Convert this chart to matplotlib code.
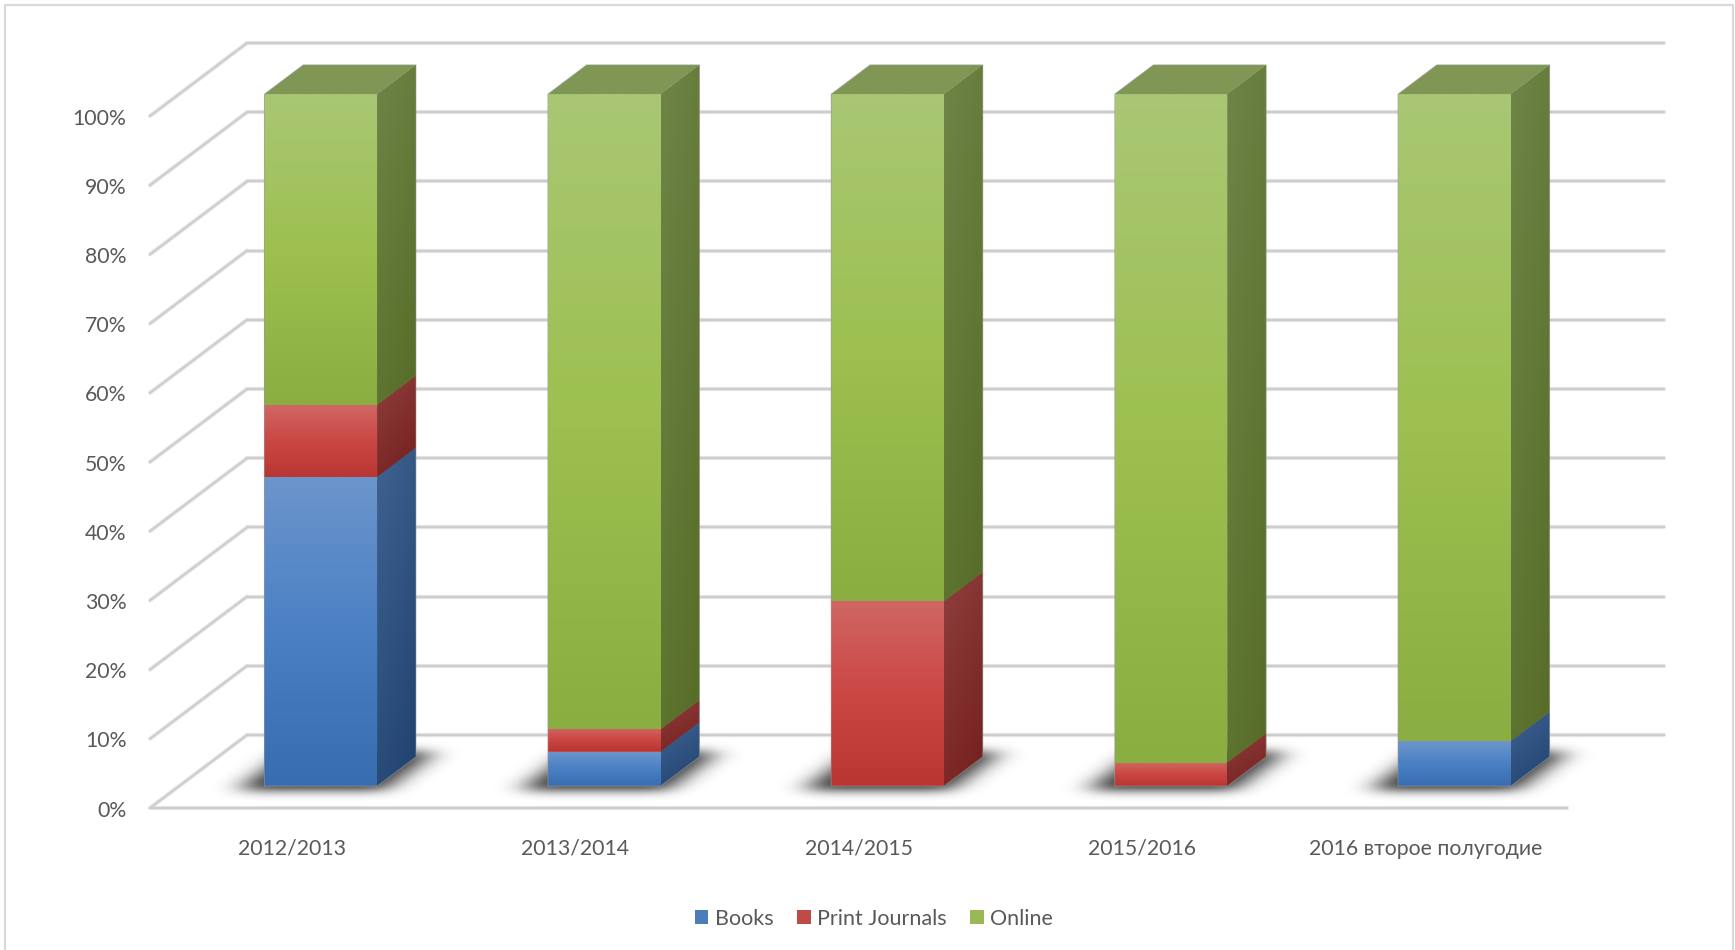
#!/usr/bin/env python3

import numpy as np
from matplotlib import pyplot as plt
from matplotlib.colors import to_rgb
from matplotlib.patches import Patch, Polygon, Rectangle
from matplotlib.transforms import ScaledTranslation

categories = ['2012/2013', '2013/2014', '2014/2015', '2015/2016', '2016 второе полугодие']
books = [44.7, 5.0, 0.0, 0.0, 6.5]
print_journals = [10.4, 3.2, 26.7, 3.4, 0.0]
online = [44.9, 91.8, 73.3, 96.6, 93.5]
series_names = ['Books', 'Print Journals', 'Online']
y_ticks = [0, 10, 20, 30, 40, 50, 60, 70, 80, 90, 100]
y_labels = ['0%', '10%', '20%', '30%', '40%', '50%', '60%', '70%', '80%', '90%', '100%']

# front face gradient (top, middle, bottom), side gradient (top left, bottom right)
front_colors = [('#6C95CC', '#4A80C4', '#386DB0'),
                ('#D06663', '#CB4744', '#B93633'),
                ('#A9C774', '#9DC050', '#8BAE42')]
side_colors = [('#3F6291', '#21426F'),
               ('#8E3F3D', '#741F1D'),
               ('#6F8547', '#566C27')]
legend_colors = ['#4A7EBB', '#BE4B48', '#98B954']
top_color = '#7F9655'
text_color = '#595959'

W, H = 1735, 950
# oblique projection: whole floor depth in data units
DEPTH_X = 97 / 283.4
DEPTH_Y = 73 / 6.92
BAR_WIDTH = 0.398
BAR_D0, BAR_D1 = 0.3, 0.7

plt.rcParams['font.family'] = ['Lato', 'Noto Sans', 'DejaVu Sans']


def proj(x, y, d):
    return x + d * DEPTH_X, y + d * DEPTH_Y


def gradient(ax, corners, img, zorder):
    xs = [c[0] for c in corners]
    ys = [c[1] for c in corners]
    # solid layer first so no white seam shows between the clipped faces
    ax.add_patch(Polygon(corners, closed=True, facecolor=img[img.shape[0] // 2, img.shape[1] // 2],
                         edgecolor='none', zorder=zorder - 0.5, clip_on=False))
    im = ax.imshow(img, extent=(min(xs), max(xs), min(ys), max(ys)), origin='upper',
                   aspect='auto', interpolation='bilinear', zorder=zorder)
    im.set_clip_path(Polygon(corners, closed=True, transform=ax.transData))
    im.set_clip_box(fig.bbox)


def front_gradient(cols):
    a, b, c = [np.array(to_rgb(k)) for k in cols]
    t = np.linspace(0, 1, 64)[:, None]
    img = np.where(t < 0.5, a + (b - a) * t * 2, b + (c - b) * (t - 0.5) * 2)
    return img[:, None, :]


def side_gradient(cols):
    a, b = [np.array(to_rgb(k)) for k in cols]
    yy, xx = np.mgrid[0:1:64j, 0:1:32j]
    t = (0.7 * yy + 0.3 * xx)[:, :, None]
    return a + (b - a) * t


def blur(mask, sigma, axis):
    r = int(sigma * 3)
    k = np.exp(-0.5 * (np.arange(-r, r + 1) / sigma) ** 2)
    k /= k.sum()
    return np.apply_along_axis(lambda v: np.convolve(v, k, mode='same'), axis, mask)


def draw_shadow(ax, i):
    # grid of about 1.5 px per cell
    xx = np.linspace(i - 0.6, i + 1.0, 300)
    yy = np.linspace(-3, 15, 84)
    gx, gy = np.meshgrid(xx, yy)
    d = gy / DEPTH_Y
    u = gx - d * DEPTH_X - i
    mask = ((u > -0.275) & (u < 0.24) & (d > 0.24) & (d < 0.78)).astype(float)
    img = np.zeros(gx.shape + (4,))
    img[:, :, :3] = 0.12
    img[:, :, 3] = 0.92 * blur(blur(mask, 3.3, 0), 9, 1)
    im = ax.imshow(img, extent=(xx[0], xx[-1], yy[0], yy[-1]), origin='lower', aspect='auto',
                   interpolation='bilinear', zorder=3)
    im.set_clip_path(None)
    im.set_clip_box(fig.bbox)


def draw_segment(ax, i, bottom, top, k):
    x0 = i - BAR_WIDTH / 2
    x1 = i + BAR_WIDTH / 2
    fl = proj(x0, bottom, BAR_D0)
    fr = proj(x1, bottom, BAR_D0)
    tl = proj(x0, top, BAR_D0)
    tr = proj(x1, top, BAR_D0)
    br = proj(x1, bottom, BAR_D1)
    bt = proj(x1, top, BAR_D1)
    gradient(ax, [fl, fr, tr, tl], front_gradient(front_colors[k]), 5)
    gradient(ax, [fr, br, bt, tr], side_gradient(side_colors[k]), 5)


fig = plt.figure(figsize=(W / 100, H / 100), dpi=100)
ax = fig.add_axes([150 / W, 1 - 808 / H, 1417 / W, 692 / H])
ax.set_facecolor('none')
for s in ax.spines.values():
    s.set_visible(False)

# chart border
fig.add_artist(Rectangle((5 / W, -0.02), 1728 / W, 1.02 - 5 / H, transform=fig.transFigure,
                         fill=False, edgecolor='#D9D9D9', linewidth=1.6))

# grid lines, wide pale line under a darker one
for lw, col, z in [(3.0, '#E6E6E6', 1), (1.5, '#CDCDCD', 2)]:
    for v in y_ticks:
        xb0, yb0 = proj(-0.5, v, 1)
        xb1, yb1 = proj(4.5, v, 1)
        ax.plot([-0.5, xb0], [v, yb0], color=col, lw=lw, solid_capstyle='round',
                clip_on=False, zorder=z)
        ax.plot([xb0, xb1], [yb0, yb1], color=col, lw=lw, solid_capstyle='round',
                clip_on=False, zorder=z)
    ax.plot([-0.5, 4.5], [0, 0], color=col, lw=lw, solid_capstyle='round',
            clip_on=False, zorder=z)

for i in range(len(categories)):
    draw_shadow(ax, i)
    bottom = 0
    for k, vals in enumerate([books, print_journals, online]):
        if vals[i] > 0:
            draw_segment(ax, i, bottom, bottom + vals[i], k)
        bottom += vals[i]
    x0 = i - BAR_WIDTH / 2
    x1 = i + BAR_WIDTH / 2
    cap = [proj(x0, bottom, BAR_D0), proj(x1, bottom, BAR_D0),
           proj(x1, bottom, BAR_D1), proj(x0, bottom, BAR_D1)]
    ax.add_patch(Polygon(cap, closed=True, facecolor=top_color, edgecolor='none',
                         zorder=6, clip_on=False))
    outline = [proj(x0, 0, BAR_D0), proj(x1, 0, BAR_D0), proj(x1, 0, BAR_D1),
               proj(x1, bottom, BAR_D1), proj(x0, bottom, BAR_D1), proj(x0, bottom, BAR_D0)]
    ax.add_patch(Polygon(outline, closed=True, fill=False, edgecolor='#9A9A9A', alpha=0.6,
                         linewidth=0.7, zorder=7, clip_on=False))

ax.set_xlim(-0.5, 4.5)
ax.set_ylim(0, 100)
ax.set_xticks(range(len(categories)))
ax.set_xticklabels(categories, fontsize=15.3, color=text_color)
ax.set_yticks(y_ticks)
ax.set_yticklabels(y_labels, fontsize=15.3, color=text_color)
ax.tick_params(axis='x', length=0, pad=22)
ax.tick_params(axis='y', length=0, pad=17)
down = ScaledTranslation(0, -0.6 / 100, fig.dpi_scale_trans)
for label in ax.get_yticklabels():
    label.set_transform(label.get_transform() + down)

handles = [Patch(facecolor=c, edgecolor='none', label=n) for c, n in zip(legend_colors, series_names)]
fig.legend(handles=handles, ncol=3, loc='center', bbox_to_anchor=(874 / W, 1 - 919 / H), frameon=False,
           fontsize=15.5, labelcolor=text_color, handlelength=0.62, handleheight=0.62,
           handletextpad=0.3, columnspacing=1.1)

fig.savefig('out.png', dpi=100)
